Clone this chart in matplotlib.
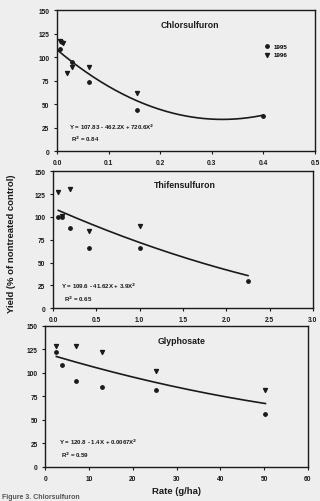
import matplotlib

matplotlib.use("Agg")
import matplotlib.pyplot as plt
import numpy as np

plt.rcParams["font.family"] = ["Liberation Sans", "DejaVu Sans"]
plt.rcParams["font.weight"] = "bold"

# Chlorsulfuron (rate g/ha, yield % of control)
chl_x95 = [0.005, 0.01, 0.03, 0.0625, 0.156, 0.4]
chl_y95 = [109, 116, 95, 74, 44, 37]
chl_x96 = [0.005, 0.012, 0.02, 0.03, 0.0625, 0.156]
chl_y96 = [117, 115, 83, 89, 89, 62]
chl_fit = [107.83, -462.2, 720.6]
chl_r2 = 0.84

# Thifensulfuron
thi_x95 = [0.06, 0.1, 0.2, 0.42, 1.0, 2.25]
thi_y95 = [100, 100, 88, 66, 66, 30]
thi_x96 = [0.06, 0.1, 0.2, 0.42, 1.0]
thi_y96 = [127, 101, 131, 84, 90]
thi_fit = [109.6, -41.62, 3.9]
thi_r2 = 0.65

# Glyphosate
gly_x95 = [2.5, 3.75, 7, 13, 25.3, 50.3]
gly_y95 = [122, 108, 91, 85, 82, 56]
gly_x96 = [2.5, 7, 13, 25.3, 50.3]
gly_y96 = [128, 128, 122, 102, 82]
gly_fit = [120.8, -1.4, 0.0067]
gly_r2 = 0.59

yticks = [0, 25, 50, 75, 100, 125, 150]
bg = "#eeeeee"
ink = "#1a1a1a"

fig = plt.figure(figsize=(3.2, 5.02), dpi=100, facecolor=bg)


def panel(rect, x95, y95, x96, y96, fit, r2, xmax, xstep, x0, x1, fmt,
          title, tpos, epos, eq, legend=False):
    ax = fig.add_axes(rect, facecolor=bg)
    ax.scatter(x95, y95, s=6, marker="o", color=ink, label="1995", zorder=3)
    ax.scatter(x96, y96, s=8, marker="v", color=ink, label="1996", zorder=3)
    xs = np.linspace(x0, x1, 200)
    ax.plot(xs, fit[0] + fit[1] * xs + fit[2] * xs ** 2, color=ink, lw=1.2)
    ax.set_xlim(0, xmax)
    ax.set_ylim(0, 150)
    ax.set_yticks(yticks)
    xt = np.arange(0, xmax + xstep / 2, xstep)
    ax.set_xticks(xt)
    ax.set_xticklabels([fmt.format(v) for v in xt])
    ax.tick_params(labelsize=4.8, length=2.5, width=0.8, color=ink,
                   labelcolor=ink, pad=3)
    for s in ax.spines.values():
        s.set_linewidth(1.0)
        s.set_color(ink)
    ax.text(tpos[0], tpos[1], title, transform=ax.transAxes, ha="center",
            va="center", fontsize=6.3, color=ink)
    ax.text(epos[0], epos[1], eq, transform=ax.transAxes, ha="left",
            va="center", fontsize=4.4, color=ink)
    ax.text(epos[0] + 0.01, epos[1] - 0.09, "R$^2$ = %.2f" % r2,
            transform=ax.transAxes, ha="left", va="center", fontsize=4.4,
            color=ink)
    if legend:
        ax.legend(loc="upper left", bbox_to_anchor=(0.78, 0.8), frameon=False,
                  fontsize=4.4, handletextpad=0.6, labelspacing=0.5,
                  markerscale=1.0, handlelength=1.0)
    return ax


panel([0.178, 0.697, 0.806, 0.281], chl_x95, chl_y95, chl_x96, chl_y96,
      chl_fit, chl_r2, 0.5, 0.1, 0.0, 0.4, "{:.1f}", "Chlorsulfuron",
      (0.515, 0.90), (0.045, 0.177),
      "Y = 107.83 - 462.2X + 720.6X$^2$", legend=True)

panel([0.166, 0.384, 0.812, 0.273], thi_x95, thi_y95, thi_x96, thi_y96,
      thi_fit, thi_r2, 3.0, 0.5, 0.06, 2.25, "{:.1f}", "Thifensulfuron",
      (0.508, 0.905), (0.03, 0.165),
      "Y = 109.6 - 41.62X + 3.9X$^2$")

panel([0.142, 0.068, 0.82, 0.281], gly_x95, gly_y95, gly_x96, gly_y96,
      gly_fit, gly_r2, 60, 10, 2.5, 50.3, "{:.0f}", "Glyphosate",
      (0.52, 0.896), (0.05, 0.18),
      "Y = 120.8 - 1.4X + 0.0067X$^2$")

fig.text(0.037, 0.515, "Yield (% of nontreated control)", rotation=90,
         ha="center", va="center", fontsize=6.8, color=ink)
fig.text(0.55, 0.02, "Rate (g/ha)", ha="center", va="center",
         fontsize=6.8, color=ink)
fig.text(0.005, 0.001, "Figure 3. Chlorsulfuron", ha="left", va="bottom",
         fontsize=5, color="#555555")

fig.savefig("out.png", dpi=100, facecolor=bg)
